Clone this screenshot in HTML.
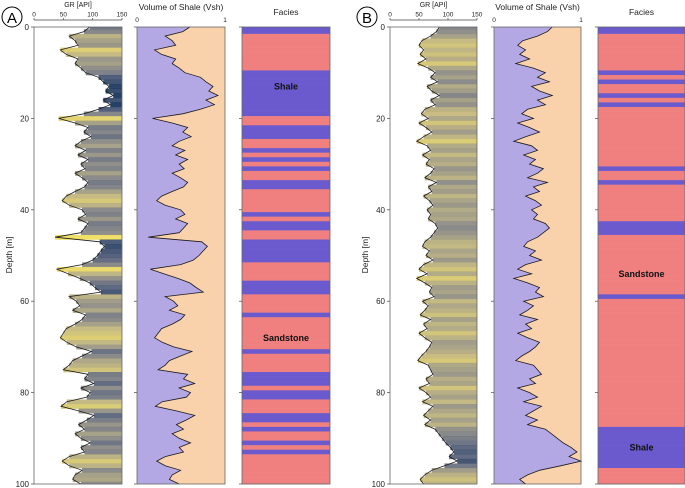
<!DOCTYPE html>
<html><head><meta charset="utf-8"><style>
html,body{margin:0;padding:0;background:#fff;}
svg{display:block;font-family:"Liberation Sans","DejaVu Sans",sans-serif;}
</style></head><body>
<svg id="chart" width="685" height="488" viewBox="0 0 685 488" xmlns="http://www.w3.org/2000/svg"></svg>
<script>
// ---- data (1 m sampling, depth 0..100) ----
const depthTicks = [0, 20, 40, 60, 80, 100];
const grTicks = [0, 50, 100, 150];
const vshTicks = [0, 1];
const grWellA = [95,85,60,70,75,45,55,75,70,80,88,110,118,128,122,135,118,130,110,85,
 42,70,92,85,97,80,70,88,75,92,80,87,70,82,92,86,70,55,48,60,
 82,88,75,92,86,80,36,112,120,114,108,100,82,39,58,78,95,104,114,60,
 72,78,66,88,82,70,55,50,45,56,72,98,82,66,60,50,92,86,102,80,
 96,90,56,46,76,102,90,76,86,70,80,96,80,86,60,48,60,82,70,66,80];
const grWellB = [85,80,70,55,50,58,52,62,48,66,78,70,82,64,72,85,70,78,60,54,
 66,50,62,72,58,46,64,70,56,68,62,76,70,60,80,66,72,58,68,74,
 64,70,66,78,82,76,70,60,56,68,62,74,58,50,64,46,60,72,68,76,
 56,66,60,52,70,58,64,50,60,72,68,62,54,48,66,70,74,62,68,50,
 62,70,56,74,66,58,70,60,78,84,90,96,104,110,102,116,94,72,60,52,58];
const labelsA = [{text:"Shale", depth:13}, {text:"Sandstone", depth:68}];
const labelsB = [{text:"Sandstone", depth:54}, {text:"Shale", depth:92}];

const wells = [
  {key:"a", letter:"A", gr:grWellA, grMin:20, grMax:145, cut:0.5, labels:labelsA,
   grX:34, vshX:137, facX:242, w:88, circleX:12},
  {key:"b", letter:"B", gr:grWellB, grMin:26, grMax:114, cut:0.56, labels:labelsB,
   grX:390, vshX:494, facX:598, w:87, circleX:367}
];
const yTop = 27, yBot = 484;
const svg = document.getElementById('chart');
const NS = "http://www.w3.org/2000/svg";
function mk(tag, attrs, parent){ const e=document.createElementNS(NS,tag); for(const k in attrs) e.setAttribute(k,attrs[k]); (parent||svg).appendChild(e); return e; }
function yD(d){ return yTop + (d/100)*(yBot-yTop); }
function cividis(t){
  const stops=[[0,[0,32,76]],[0.25,[64,77,107]],[0.5,[124,123,120]],[0.75,[188,175,111]],[1,[255,233,69]]];
  t=Math.max(0,Math.min(1,t));
  for(let i=1;i<stops.length;i++){ if(t<=stops[i][0]){ const a=stops[i-1],b=stops[i]; const f=(t-a[0])/(b[0]-a[0]);
    return 'rgb('+a[1].map((v,j)=>Math.round(v+(b[1][j]-v)*f)).join(',')+')'; } }
  return 'rgb(255,233,69)';
}
wells.forEach(W=>{
  const n=W.gr.length, step=(yBot-yTop)/(n-1);
  const xG = v => W.grX + v/150*W.w;
  const vsh = W.gr.map(g=>Math.max(0,Math.min(1,(g-W.grMin)/(W.grMax-W.grMin))));
  const xV = v => W.vshX + v*W.w;
  const c=mk('circle',{cx:W.circleX,cy:17,r:10,fill:'none',stroke:'#000','stroke-width':1});
  
  
  const ct=mk('text',{x:W.circleX,y:23,'text-anchor':'middle','font-size':15,fill:'#000'}); ct.textContent=W.letter;
  
  
  // ---- GR track ----
  const g=mk('g',{});
  
  
  for(let i=0;i<n;i++){
    const y0=yD(i*100/(n-1))-step/2, x=xG(W.gr[i]);
    const y1=Math.max(yTop,y0), y2=Math.min(yBot,y0+step);
    const t=1-(W.gr[i]-30)/100;
    const r=mk('rect',{x:x,y:y1,width:W.grX+W.w-x,height:y2-y1+0.3,fill:cividis(t),opacity:0.85},g);
    
    
  }
  const pts=W.gr.map((v,i)=>xG(v).toFixed(1)+','+yD(i*100/(n-1)).toFixed(1)).join(' ');
  const gl=mk('polyline',{points:pts,fill:'none',stroke:'#1a1a1a','stroke-width':0.8},g);
  
  
  const gf=mk('rect',{x:W.grX,y:yTop,width:W.w,height:yBot-yTop,fill:'none',stroke:'#666','stroke-width':0.8},g);
  
  
  mk('line',{x1:W.grX,x2:W.grX+W.w,y1:20,y2:20,stroke:'#444','stroke-width':0.7});
  grTicks.forEach(v=>{
    mk('line',{x1:xG(v),x2:xG(v),y1:20,y2:18,stroke:'#444','stroke-width':0.7});
    const t=mk('text',{x:xG(v),y:16.5,'text-anchor':'middle','font-size':6.5,fill:'#222'}); t.textContent=v;
    
    
  });
  const gt=mk('text',{x:W.grX+W.w/2,y:7,'text-anchor':'middle','font-size':7,fill:'#222'}); gt.textContent='GR [API]';
  
  
  depthTicks.forEach(d=>{
    mk('line',{x1:W.grX-3,x2:W.grX,y1:yD(d),y2:yD(d),stroke:'#444','stroke-width':0.7});
    const t=mk('text',{x:W.grX-5,y:yD(d)+3,'text-anchor':'end','font-size':8,fill:'#222'}); t.textContent=d;
    
    
    [W.vshX,W.facX].forEach(x=>mk('line',{x1:x-3,x2:x,y1:yD(d),y2:yD(d),stroke:'#444','stroke-width':0.7}));
  });
  const dt=mk('text',{x:0,y:0,'text-anchor':'middle','font-size':8.5,fill:'#222',transform:'translate('+(W.grX-22)+',255) rotate(-90)'}); dt.textContent='Depth [m]';
  
  
  // ---- Vsh track ----
  const v=mk('g',{});
  
  
  const pk=mk('rect',{x:W.vshX,y:yTop,width:W.w,height:yBot-yTop,fill:'#f9d1ab'},v);
  
  
  const vpts=vsh.map((s,i)=>xV(s).toFixed(1)+','+yD(i*100/(n-1)).toFixed(1)).join(' ');
  const lv=mk('polygon',{points:W.vshX+','+yTop+' '+vpts+' '+W.vshX+','+yBot,fill:'#b3a8e4'},v);
  
  
  const vl=mk('polyline',{points:vpts,fill:'none',stroke:'#1a1a1a','stroke-width':0.8},v);
  
  
  mk('rect',{x:W.vshX,y:yTop,width:W.w,height:yBot-yTop,fill:'none',stroke:'#666','stroke-width':0.8},v);
  vshTicks.forEach(s=>{
    const t=mk('text',{x:xV(s),y:22,'text-anchor':'middle','font-size':6.5,fill:'#222'}); t.textContent=s;
    
    
  });
  const vt=mk('text',{x:W.vshX+W.w/2,y:10,'text-anchor':'middle','font-size':8.5,fill:'#222'}); vt.textContent='Volume of Shale (Vsh)';
  
  
  // ---- Facies track ----
  const f=mk('g',{});
  
  
  for(let i=0;i<n;i++){
    const y0=yD(i*100/(n-1))-step/2;
    const y1=Math.max(yTop,y0), y2=Math.min(yBot,y0+step);
    const r=mk('rect',{x:W.facX,y:y1,width:W.w,height:y2-y1+0.3,fill:vsh[i]>=W.cut?'#6a5acd':'#f08080'},f);
    
    
  }
  mk('rect',{x:W.facX,y:yTop,width:W.w,height:yBot-yTop,fill:'none',stroke:'#666','stroke-width':0.8},f);
  W.labels.forEach(L=>{
    const t=mk('text',{x:W.facX+W.w/2,y:yD(L.depth)+3,'text-anchor':'middle','font-size':9,'font-weight':'bold',fill:'#111'},f); t.textContent=L.text;
    
    
  });
  const ft=mk('text',{x:W.facX+W.w/2,y:15,'text-anchor':'middle','font-size':8.5,fill:'#222'}); ft.textContent='Facies';
  
  
});
</script>
</body></html>
